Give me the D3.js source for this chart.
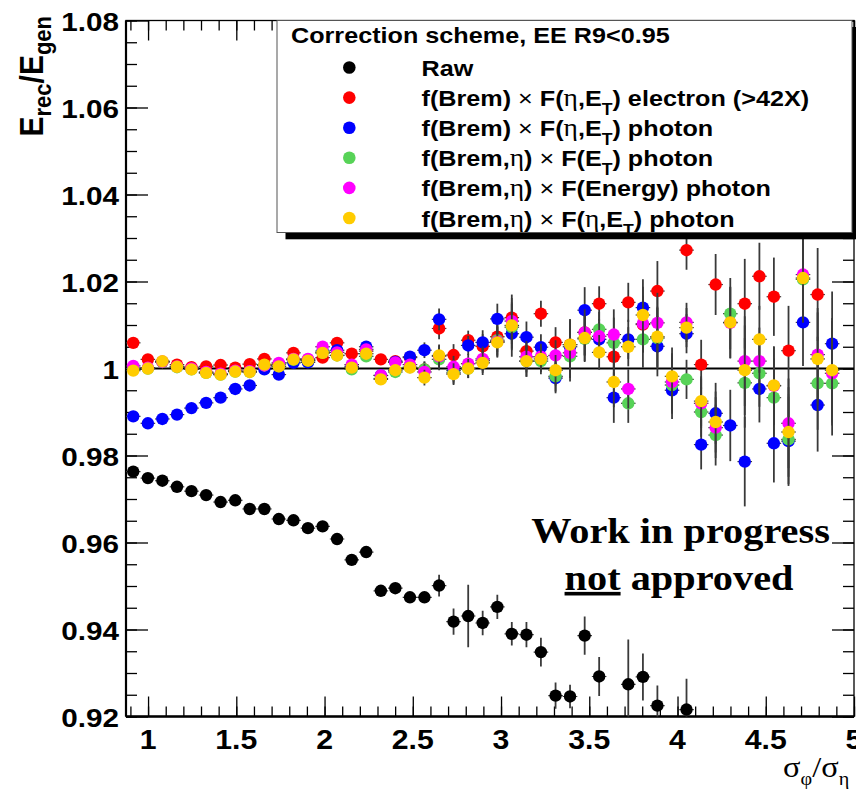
<!DOCTYPE html>
<html>
<head>
<meta charset="utf-8">
<script src="https://cdn.jsdelivr.net/npm/d3@7"></script>
<style>
  body { margin: 0; background: #fff; }
  svg { display: block; }
</style>
</head>
<body>
<div id="chart"></div>
<script>
// bin centres of the sigma_phi/sigma_eta histogram (50 bins, 0.875 - 5)
var binCenters = [0.916, 0.999, 1.081, 1.164, 1.246, 1.329, 1.411, 1.494, 1.576, 1.659,
                  1.741, 1.824, 1.906, 1.989, 2.071, 2.154, 2.236, 2.319, 2.401, 2.484,
                  2.566, 2.649, 2.731, 2.814, 2.896, 2.979, 3.061, 3.144, 3.226, 3.309,
                  3.391, 3.474, 3.556, 3.639, 3.721, 3.804, 3.886, 3.969, 4.051, 4.134,
                  4.216, 4.299, 4.381, 4.464, 4.546, 4.629, 4.711, 4.794, 4.876];
var binHalfWidth = 0.04125;

// Raw
var rawVals = [0.9763, 0.9748, 0.9742, 0.9728, 0.9718, 0.9709, 0.9693, 0.9697, 0.9677, 0.9677,
               0.9654, 0.9651, 0.9633, 0.9637, 0.9608, 0.9560, 0.9578, 0.9489, 0.9495, 0.9474,
               0.9474, 0.9501, 0.9418, 0.9431, 0.9415, 0.9452, 0.9390, 0.9388, 0.9348, 0.9248,
               0.9246, 0.9386, 0.9292, null,   0.9274, 0.9291, 0.9225, null,   0.9216, null,
               null, null, null, null, null, null, null, null, null];
var rawErr = [0.0004, 0.0004, 0.0004, 0.0004, 0.0004, 0.0004, 0.0006, 0.0006, 0.0006, 0.0006,
              0.0006, 0.0006, 0.0006, 0.0006, 0.0009, 0.0009, 0.0009, 0.0012, 0.0012, 0.0012,
              0.0012, 0.0025, 0.0030, 0.0072, 0.0028, 0.0028, 0.0027, 0.0029, 0.0033, 0.0030,
              0.0027, 0.0044, 0.0045, 0,      0.0103, 0.0054, 0.0046, 0,      0.0071, 0,
              0, 0, 0, 0, 0, 0, 0, 0, 0];

// f(Brem) x F(eta,ET) electron
var elecVals = [1.0059, 1.0021, 1.0015, 1.0009, 1.0003, 1.0005, 1.0008, 1.0002, 1.0010, 1.0022,
                1.0010, 1.0036, 1.0020, 1.0025, 1.0059, 1.0034, 1.0040, 1.0021, 1.0017, 1.0025,
                0.9998, 1.0092, 1.0031, 1.0065, 1.0051, 1.0073, 1.0117, 1.0040, 1.0126, 1.0060,
                1.0055, 1.0083, 1.0149, 1.0027, 1.0152, 1.0101, 1.0178, null,   1.0272, 1.0009,
                1.0193, null,   1.0149, 1.0212, 1.0165, 1.0041, null,   1.0170, null];
// f(Brem) x F(eta,ET) photon
var phoEtaEtVals = [0.9890, 0.9874, 0.9884, 0.9894, 0.9909, 0.9921, 0.9933, 0.9953, 0.9961, 0.9998,
                    0.9986, 1.0013, 1.0014, 1.0040, 1.0042, 1.0005, 1.0050, 0.9984, 1.0015, 1.0027,
                    1.0042, 1.0113, 0.9995, 1.0053, 1.0060, 1.0114, 1.0080, 1.0072, 1.0049, 0.9978,
                    1.0050, 1.0134, 1.0067, 0.9933, 1.0067, 1.0140, 1.0051, 0.9950, 1.0080, 0.9825,
                    0.9897, 0.9869, 0.9786, 0.9953, 0.9828, 0.9833, 1.0106, 0.9916, 1.0057];
// f(Brem,eta) x F(ET) photon
var bremEtaEtVals = [1.0000, 1.0000, 1.0015, 1.0003, 0.9998, 0.9990, 0.9986, 0.9993, 0.9992, 1.0007,
                     1.0005, 1.0020, 1.0018, 1.0036, 1.0030, 0.9998, 1.0028, 0.9977, 0.9992, 1.0003,
                     0.9998, 1.0021, 0.9990, 1.0000, 1.0018, 1.0065, 1.0095, 1.0017, 1.0017, 0.9982,
                     1.0028, 1.0068, 1.0090, 1.0059, 0.9920, 1.0067, 1.0070, 0.9962, 0.9975, 0.9900,
                     0.9847, 1.0126, 0.9967, 0.9989, 0.9933, 0.9837, 1.0205, 0.9966, 0.9966];
// f(Brem,eta) x F(Energy) photon
var bremEtaEnVals = [1.0006, 1.0002, 1.0016, 1.0005, 1.0000, 0.9992, 0.9988, 0.9995, 0.9994, 1.0007,
                     1.0013, 1.0022, 1.0022, 1.0050, 1.0037, 1.0009, 1.0044, 0.9984, 1.0014, 1.0009,
                     0.9992, 1.0028, 1.0004, 1.0011, 1.0022, 1.0062, 1.0109, 1.0027, 1.0027, 1.0030,
                     1.0036, 1.0083, 1.0074, 1.0078, 0.9953, 1.0103, 1.0105, 0.9969, 1.0106, 0.9920,
                     0.9864, 1.0105, 1.0017, 1.0017, 0.9960, 0.9874, 1.0216, 1.0032, 0.9989];
// f(Brem,eta) x F(eta,ET) photon
var bremEtaEtaEtVals = [0.9995, 1.0000, 1.0017, 1.0004, 0.9998, 0.9990, 0.9986, 0.9993, 0.9992, 1.0009,
                        1.0005, 1.0021, 1.0018, 1.0036, 1.0030, 1.0002, 1.0034, 0.9975, 0.9996, 1.0002,
                        0.9979, 1.0030, 0.9987, 1.0000, 1.0013, 1.0060, 1.0099, 1.0017, 1.0022, 0.9996,
                        1.0055, 1.0070, 1.0037, 0.9969, 1.0050, 1.0123, 1.0073, 0.9982, 1.0094, 0.9925,
                        0.9877, 1.0106, 0.9996, 1.0067, 0.9961, 0.9854, 1.0208, 1.0022, 0.9996];
// statistical error shared by the corrected series
var corrErr = [0.0005, 0.0005, 0.0005, 0.0005, 0.0005, 0.0005, 0.0005, 0.0005, 0.0005, 0.0005,
               0.0008, 0.0008, 0.0008, 0.0008, 0.0008, 0.0012, 0.0012, 0.0012, 0.0012, 0.0012,
               0.0018, 0.0025, 0.0025, 0.0022, 0.0028, 0.0035, 0.0053, 0.0036, 0.0030, 0.0035,
               0.0058, 0.0053, 0.0040, 0.0058, 0.0045, 0.0065, 0.0069, 0.0066, 0.0045, 0.0057,
               0.0070, 0.0082, 0.0103, 0.0077, 0.0090, 0.0103, 0.0100, 0.0107, 0.0120];

var legendHeader = "Correction scheme, EE R9<0.95";
var seriesNames = ["Raw",
                   "f(Brem) × F(η,E_T) electron (>42X)",
                   "f(Brem) × F(η,E_T) photon",
                   "f(Brem,η) × F(E_T) photon",
                   "f(Brem,η) × F(Energy) photon",
                   "f(Brem,η) × F(η,E_T) photon"];
var seriesColors = ["#000000", "#ff0000", "#0000ff", "#57d357", "#ff00ff", "#ffcc00"];

var xTickLabels = [1, 1.5, 2, 2.5, 3, 3.5, 4, 4.5, 5];
var yTickLabels = [0.92, 0.94, 0.96, 0.98, 1, 1.02, 1.04, 1.06, 1.08];

var series = [
    {vals: rawVals, err: rawErr},
    {vals: elecVals, err: corrErr},
    {vals: phoEtaEtVals, err: corrErr},
    {vals: bremEtaEtVals, err: corrErr},
    {vals: bremEtaEnVals, err: corrErr},
    {vals: bremEtaEtaEtVals, err: corrErr}
];

var W = 856, H = 789;
var SX = 1.12;   // text in the reference is a bit wide
var SANS = "'Liberation Sans', Arial, Helvetica, sans-serif";
var SERIF = "'Liberation Serif', 'Times New Roman', serif";

var svg = d3.select('#chart').append('svg')
    .attr('width', W)
    .attr('height', H)
    .style('font-family', SANS);

var x = d3.scaleLinear().domain([0.875, 5]).range([126, 854]);
var y = d3.scaleLinear().domain([0.92, 1.08]).range([716.5, 20.5]);

svg.append('defs').append('clipPath').attr('id', 'plotclip')
  .append('rect')
    .attr('x', x(0.875)).attr('y', y(1.08))
    .attr('width', x(5) - x(0.875)).attr('height', y(0.92) - y(1.08));

// ticks (ROOT style: inward, on all four sides)
function noDomain(g) { g.select('.domain').remove(); g.selectAll('line').attr('stroke', '#000').attr('stroke-width', 1.3); }
var xMinor = x.ticks(41), yMinor = y.ticks(32);

svg.append('g').attr('transform', 'translate(0,' + y(0.92) + ')')
    .call(d3.axisBottom(x).tickValues(xMinor).tickSize(-10).tickFormat('')).call(noDomain);
svg.append('g').attr('transform', 'translate(0,' + y(0.92) + ')')
    .call(d3.axisBottom(x).tickValues(xTickLabels).tickSize(-20).tickFormat('')).call(noDomain);
svg.append('g').attr('transform', 'translate(0,' + y(1.08) + ')')
    .call(d3.axisTop(x).tickValues(xMinor).tickSize(-10).tickFormat('')).call(noDomain);
svg.append('g').attr('transform', 'translate(0,' + y(1.08) + ')')
    .call(d3.axisTop(x).tickValues(xTickLabels).tickSize(-20).tickFormat('')).call(noDomain);
svg.append('g').attr('transform', 'translate(' + x(0.875) + ',0)')
    .call(d3.axisLeft(y).tickValues(yMinor).tickSize(-11).tickFormat('')).call(noDomain);
svg.append('g').attr('transform', 'translate(' + x(0.875) + ',0)')
    .call(d3.axisLeft(y).tickValues(yTickLabels).tickSize(-22).tickFormat('')).call(noDomain);
svg.append('g').attr('transform', 'translate(' + x(5) + ',0)')
    .call(d3.axisRight(y).tickValues(yMinor).tickSize(-11).tickFormat('')).call(noDomain);
svg.append('g').attr('transform', 'translate(' + x(5) + ',0)')
    .call(d3.axisRight(y).tickValues(yTickLabels).tickSize(-22).tickFormat('')).call(noDomain);

// frame
svg.append('rect')
    .attr('x', x(0.875)).attr('y', y(1.08))
    .attr('width', x(5) - x(0.875)).attr('height', y(0.92) - y(1.08))
    .attr('fill', 'none').attr('stroke', '#000').attr('stroke-width', 1.3);
svg.append('line').attr('x1', x(0.875)).attr('x2', x(0.875)).attr('y1', y(1.08)).attr('y2', y(0.92))
    .attr('stroke', '#000').attr('stroke-width', 2.2);
svg.append('line').attr('x1', x(0.875)).attr('x2', x(5)).attr('y1', y(0.92)).attr('y2', y(0.92))
    .attr('stroke', '#000').attr('stroke-width', 2.6);

// tick labels
function sText(parent, px, py, anchor, size) {
    return parent.append('text')
        .attr('transform', 'translate(' + px + ',' + py + ') scale(' + SX + ',1)')
        .attr('text-anchor', anchor)
        .style('font-size', size + 'px')
        .style('font-weight', 'bold');
}
var fmt = function(d) { return d3.format('')(d); };
yTickLabels.forEach(function(v) {
    sText(svg, 119, y(v) + 10, 'end', 26.5).text(fmt(v));
});
xTickLabels.forEach(function(v) {
    sText(svg, x(v), 749, 'middle', 27).text(fmt(v));
});

// axis titles
var yt = svg.append('text')
    .attr('transform', 'translate(43,16) rotate(-90) scale(1,' + SX + ')')
    .attr('text-anchor', 'end')
    .style('font-size', '30px').style('font-weight', 'bold');
yt.append('tspan').text('E');
yt.append('tspan').attr('dy', 7).style('font-size', '22px').text('rec');
yt.append('tspan').attr('dy', -7).text('/E');
yt.append('tspan').attr('dy', 7).style('font-size', '22px').text('gen');

var xt = svg.append('text')
    .attr('transform', 'translate(783,776.5) scale(' + SX + ',1)')
    .style('font-family', SERIF).style('font-size', '29px');
xt.append('tspan').text('σ');
xt.append('tspan').attr('dy', 8).style('font-size', '18px').text('φ');
xt.append('tspan').attr('dy', -8).text('/σ');
xt.append('tspan').attr('dy', 8).style('font-size', '18px').text('η');

// reference line at 1
svg.append('line')
    .attr('x1', x(0.875)).attr('x2', x(5)).attr('y1', y(1)).attr('y2', y(1))
    .attr('stroke', '#000').attr('stroke-width', 2.2);

// data
var plot = svg.append('g').attr('clip-path', 'url(#plotclip)');
series.forEach(function(s, k) {
    var pts = binCenters.map(function(c, i) {
        return {x: c, v: s.vals[i], e: s.err[i]};
    }).filter(function(d) { return d.v != null; });
    var g = plot.append('g');
    g.selectAll('line.ey').data(pts).enter().append('line')
        .attr('class', 'ey')
        .attr('x1', function(d) { return x(d.x); })
        .attr('x2', function(d) { return x(d.x); })
        .attr('y1', function(d) { return y(d.v - d.e); })
        .attr('y2', function(d) { return y(d.v + d.e); })
        .attr('stroke', '#3a3a3a').attr('stroke-width', 1.8);
    g.selectAll('line.ex').data(pts).enter().append('line')
        .attr('class', 'ex')
        .attr('x1', function(d) { return x(d.x - binHalfWidth); })
        .attr('x2', function(d) { return x(d.x + binHalfWidth); })
        .attr('y1', function(d) { return y(d.v); })
        .attr('y2', function(d) { return y(d.v); })
        .attr('stroke', '#3a3a3a').attr('stroke-width', 1.2);
    g.selectAll('circle').data(pts).enter().append('circle')
        .attr('cx', function(d) { return x(d.x); })
        .attr('cy', function(d) { return y(d.v); })
        .attr('r', 6.2)
        .attr('fill', seriesColors[k]);
});

// legend
var leg = svg.append('g');
leg.append('rect').attr('x', 285.5).attr('y', 27).attr('width', 575).attr('height', 212.3).attr('fill', '#000');
leg.append('rect').attr('x', 277).attr('y', 20.5).attr('width', 575).attr('height', 212)
    .attr('fill', '#fff').attr('stroke', '#555').attr('stroke-width', 1);
sText(leg, 291, 43, 'start', 22.5).text(legendHeader);

function addRich(t, str, size) {
    var pendingDy = 0;
    str.split(/(η|×|_.)/).forEach(function(p) {
        if (!p) return;
        var ts = t.append('tspan');
        if (pendingDy) { ts.attr('dy', pendingDy); pendingDy = 0; }
        if (p === 'η') {
            ts.style('font-family', SERIF).style('font-weight', 'normal').style('font-size', (size + 2) + 'px').text(p);
        } else if (p === '×') {
            ts.style('font-weight', 'normal').text(p);
        } else if (p[0] === '_') {
            ts.attr('dy', 9).style('font-size', (size * 0.7) + 'px').text(p[1]);
            pendingDy = -9;
        } else {
            ts.text(p);
        }
    });
}

seriesNames.forEach(function(name, i) {
    var ry = 67.5 + 30.1 * i;
    leg.append('circle').attr('cx', 349.3).attr('cy', ry).attr('r', 6.3).attr('fill', seriesColors[i]);
    var t = sText(leg, 421.5, ry + 8.5, 'start', 22.5).attr('xml:space', 'preserve');
    addRich(t, name, 22.5);
});

// stamp
svg.append('text')
    .attr('transform', 'translate(680.5,543) scale(' + SX + ',1)')
    .attr('text-anchor', 'middle')
    .style('font-family', SERIF).style('font-weight', 'bold').style('font-size', '36px')
    .text('Work in progress');
var st2 = svg.append('text')
    .attr('transform', 'translate(679,590) scale(' + SX + ',1)')
    .attr('text-anchor', 'middle')
    .style('font-family', SERIF).style('font-weight', 'bold').style('font-size', '36px');
st2.append('tspan').style('text-decoration', 'underline').text('not');
st2.append('tspan').text(' approved');
</script>
</body>
</html>
